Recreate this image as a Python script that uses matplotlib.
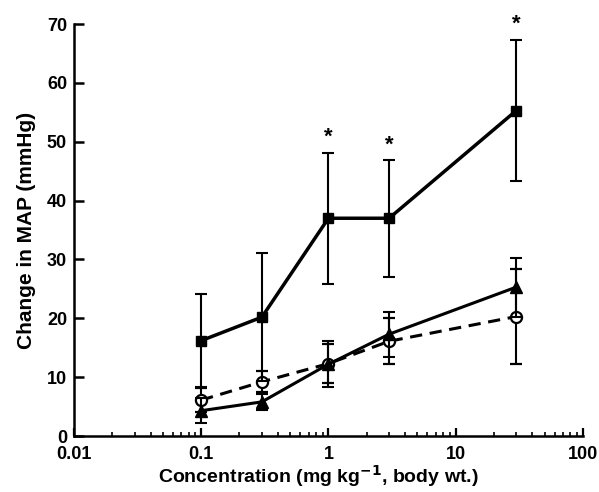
import matplotlib
matplotlib.use("Agg")
import matplotlib.pyplot as plt
from matplotlib.ticker import LogLocator, FixedLocator, NullFormatter

plt.rcParams['font.family'] = ['Liberation Sans', 'DejaVu Sans']
plt.rcParams['font.weight'] = 'bold'
plt.rcParams['mathtext.default'] = 'bf'

dose = [0.1, 0.3, 1, 3, 30]
sq_y = [16.2, 20.2, 37.0, 37.0, 55.3]
sq_err = [7.9, 10.9, 11.1, 9.9, 12.0]
tri_y = [4.3, 5.8, 12.2, 17.3, 25.3]
tri_err = [2.1, 1.4, 3.9, 3.8, 5.0]
circ_y = [6.1, 9.2, 12.3, 16.1, 20.3]
circ_err = [2.0, 1.8, 3.3, 3.9, 8.0]
sig_x = [1, 3, 30]
sig_top = [48.1, 46.9, 67.3]

xticks = [0.01, 0.1, 1, 10, 100]
xtick_labels = ['0.01', '0.1', '1', '10', '100']
yticks = [0, 10, 20, 30, 40, 50, 60, 70]

fig = plt.figure(figsize=(5.99, 4.92), dpi=100)
ax = fig.add_axes([0.1235, 0.1138, 0.8495, 0.8374])

ekw = dict(ecolor='black', elinewidth=1.5, capsize=4, capthick=1.5)
ax.errorbar(dose, circ_y, yerr=circ_err, color='black', lw=2.2, ls=(0, (4, 2.5)),
            marker='o', ms=8, mfc='white', mec='black', mew=1.6, zorder=3, **ekw)
ax.errorbar(dose, tri_y, yerr=tri_err, color='black', lw=2.2, ls='-',
            marker='^', ms=9, mfc='black', mec='black', zorder=4, **ekw)
ax.errorbar(dose, sq_y, yerr=sq_err, color='black', lw=2.5, ls='-',
            marker='s', ms=7.5, mfc='black', mec='black', zorder=5, **ekw)

for x, t in zip(sig_x, sig_top):
    ax.text(x, t + 0.8, '*', ha='center', va='bottom', fontsize=16, fontweight='bold')

ax.set_xscale('log')
ax.set_xlim(0.01, 100)
ax.set_ylim(0, 70)
ax.xaxis.set_major_locator(FixedLocator(xticks))
ax.set_xticklabels(xtick_labels)
ax.xaxis.set_minor_locator(LogLocator(base=10, subs=range(2, 10)))
ax.xaxis.set_minor_formatter(NullFormatter())
ax.set_yticks(yticks)

for s in ['top', 'right']:
    ax.spines[s].set_visible(False)
for s in ['left', 'bottom']:
    ax.spines[s].set_linewidth(1.8)

ax.tick_params(axis='x', which='major', direction='in', length=6, width=1.6,
               labelsize=13, pad=7)
ax.tick_params(axis='x', which='minor', direction='in', length=3, width=1.2)
ax.tick_params(axis='y', which='major', direction='in', length=7, width=1.8,
               labelsize=13, pad=5)

ax.set_xlabel('Concentration (mg kg$^{-1}$, body wt.)', fontsize=14, fontweight='bold')
ax.xaxis.set_label_coords(0.48, -0.065)
ax.set_ylabel('Change in MAP (mmHg)', fontsize=15, fontweight='bold', labelpad=8)

fig.savefig('out.png', dpi=100)
